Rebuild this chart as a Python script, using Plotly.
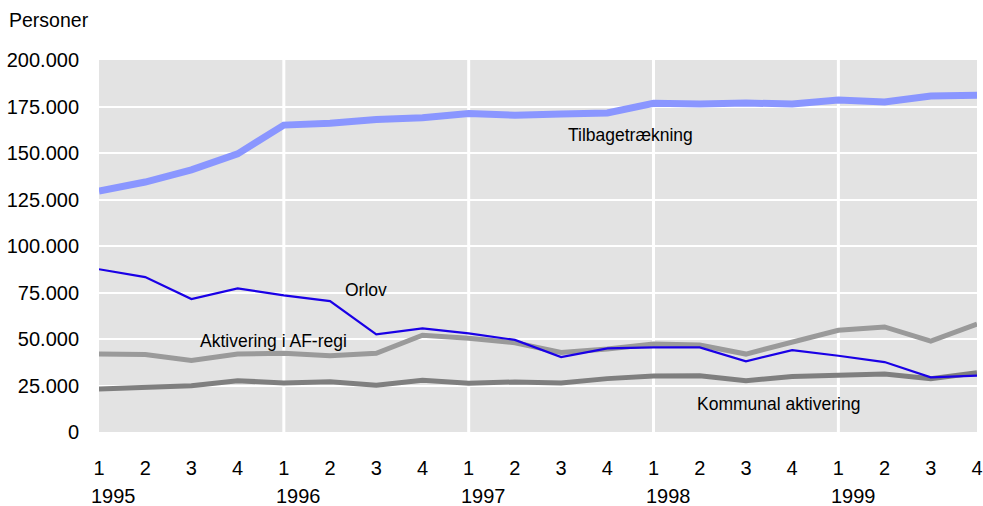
import plotly.graph_objects as go

quarters = ["1", "2", "3", "4"] * 5
years = ["1995", "1996", "1997", "1998", "1999"]

tilbage = [129.6, 134.4, 140.9, 149.5, 165.0, 166.0, 168.0, 169.0, 171.2, 170.3, 171.0, 171.5,
           176.7, 176.3, 176.9, 176.3, 178.5, 177.4, 180.6, 181.0]
orlov = [87.5, 83.3, 71.5, 77.2, 73.5, 70.4, 52.5, 55.7, 53.0, 49.5, 40.3, 45.0,
         45.5, 45.5, 38.0, 44.0, 41.0, 37.6, 29.4, 30.3]
aktiv_af = [41.9, 41.6, 38.4, 41.9, 42.3, 41.0, 42.3, 52.0, 50.4, 48.0, 42.8, 44.6,
            47.3, 46.8, 41.9, 48.0, 54.7, 56.5, 48.9, 58.0]
kommunal = [23.1, 24.0, 24.9, 27.6, 26.3, 27.0, 25.1, 27.8, 26.2, 26.9, 26.3, 28.7,
            30.1, 30.3, 27.6, 29.9, 30.5, 31.2, 28.7, 31.9]

yticks = [0, 25000, 50000, 75000, 100000, 125000, 150000, 175000, 200000]

FONT = "Liberation Sans, Arial, sans-serif"
xs = list(range(len(quarters)))

def k(v):
    return [a * 1000 for a in v]

fig = go.Figure()
fig.add_trace(go.Scatter(x=xs, y=k(kommunal), mode="lines", cliponaxis=False,
                         line=dict(color="#7f7f7f", width=5), name="Kommunal aktivering"))
fig.add_trace(go.Scatter(x=xs, y=k(aktiv_af), mode="lines", cliponaxis=False,
                         line=dict(color="#9a9a9a", width=5), name="Aktivering i AF-regi"))
fig.add_trace(go.Scatter(x=xs, y=k(orlov), mode="lines", cliponaxis=False,
                         line=dict(color="#1a00e6", width=2.2), name="Orlov"))
fig.add_trace(go.Scatter(x=xs, y=k(tilbage), mode="lines", cliponaxis=False,
                         line=dict(color="#8a96ff", width=7), name="Tilbagetrækning"))

# vertical year separators
for i in range(4, len(quarters), 4):
    fig.add_shape(type="line", xref="x", yref="paper", x0=i, x1=i, y0=0, y1=1,
                  line=dict(color="white", width=3), layer="below")

# year labels
for j, yr in enumerate(years):
    fig.add_annotation(x=j * 4 + 0.32, y=0, xref="x", yref="paper", text=yr,
                       showarrow=False, yshift=-64, font=dict(size=20, family=FONT, color="black"),
                       xanchor="center", yanchor="middle")

labels = [("Tilbagetrækning", 11.5, 159700), ("Orlov", 5.78, 76300),
          ("Aktivering i AF-regi", 3.77, 48900), ("Kommunal aktivering", 14.7, 15000)]
for txt, x, y in labels:
    fig.add_annotation(x=x, y=y, text=txt, showarrow=False, xanchor="center", yanchor="middle",
                       font=dict(size=17.5, family=FONT, color="black"))

fig.add_annotation(x=0, y=1, xref="paper", yref="paper", text="Personer", showarrow=False,
                   xanchor="left", yanchor="middle", xshift=-92, yshift=40,
                   font=dict(size=19.5, family=FONT, color="black"))

fig.update_layout(
    width=983, height=506,
    margin=dict(l=99, r=6, t=60, b=74, autoexpand=False),
    paper_bgcolor="white", plot_bgcolor="#e3e3e3",
    showlegend=False,
    separators=",.",
    font=dict(family=FONT, size=20, color="black"),
    xaxis=dict(range=[0, 19], tickvals=xs, ticktext=quarters, showgrid=False, zeroline=False,
               ticks="outside", ticklen=18, tickcolor="rgba(0,0,0,0)", showline=False,
               tickfont=dict(size=20), automargin=False),
    yaxis=dict(range=[0, 200000], tickvals=yticks, tickformat=",d", showgrid=True,
               gridcolor="white", gridwidth=2, zeroline=False, ticks="outside", ticklen=15,
               tickcolor="rgba(0,0,0,0)", showline=False, tickfont=dict(size=20),
               automargin=False),
)

fig.write_html("out.html", config={"displayModeBar": False},
               post_script="document.body.style.margin='0';")
